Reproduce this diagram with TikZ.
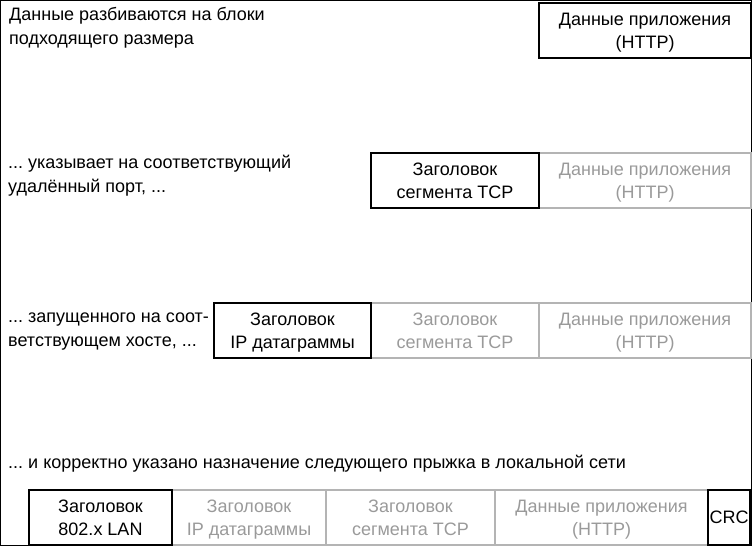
\documentclass[tikz,border=0pt]{standalone}
\usepackage{fontspec}
\setmainfont{Liberation Sans}
\frenchspacing
\definecolor{boxgray}{HTML}{B4B4B4}
\definecolor{txtgray}{HTML}{9A9A9A}
\newcommand\twoline[2]{\rule{0pt}{19.5pt}#1\\#2\strut}
\begin{document}
\begin{tikzpicture}[x=1pt,y=-1pt,
  every node/.style={font=\fontsize{18}{24}\selectfont},
  box/.style={line width=2pt, inner sep=0pt, align=center, anchor=north west, minimum height=55pt,
    font=\fontsize{18}{23}\selectfont},
  blk/.style={box, draw=black, text=black},
  gry/.style={box, draw=boxgray, text=txtgray},
  lbl/.style={anchor=base west, inner sep=0pt, align=left, text=black}]
\useasboundingbox (0,0) rectangle (752,546);
\draw[line width=1pt] (0.5,0.5) rectangle (751.5,545.5);

% row 1
\node[lbl] (t1) at (9,44) {Данные разбиваются на блоки\\подходящего размера};
\node[blk, minimum width=212pt] (d1) at (538,2) {\twoline{Данные приложения}{(HTTP)}};

% row 2
\node[lbl] (t2) at (8,192) {... указывает на соответствующий\\удалённый порт, ...};
\node[gry, minimum width=212pt] (d2) at (538,152) {\twoline{Данные приложения}{(HTTP)}};
\node[blk, minimum width=168pt] (tcp2) at (370,152) {\twoline{Заголовок}{сегмента TCP}};

% row 3
\node[lbl] (t3) at (8,346) {... запущенного на соот-\\ветствующем хосте, ...};
\node[gry, minimum width=212pt] (d3) at (538,302) {\twoline{Данные приложения}{(HTTP)}};
\node[gry, minimum width=168pt] (tcp3) at (370,302) {\twoline{Заголовок}{сегмента TCP}};
\node[blk, minimum width=157pt] (ip3) at (213,302) {\twoline{Заголовок}{IP датаграммы}};

% row 4
\node[lbl] (t4) at (8,468) {... и корректно указано назначение следующего прыжка в локальной сети};
\node[gry, minimum width=154pt] (ip4) at (171,489) {\twoline{Заголовок}{IP датаграммы}};
\node[gry, minimum width=169pt] (tcp4) at (325,489) {\twoline{Заголовок}{сегмента TCP}};
\node[gry, minimum width=213pt] (d4) at (494,489) {\twoline{Данные приложения}{(HTTP)}};
\node[blk, minimum width=143pt] (lan4) at (28,489) {\twoline{Заголовок}{802.x LAN}};
\node[blk, minimum width=42pt] (crc4) at (707,489) {CRC};
\end{tikzpicture}
\end{document}
